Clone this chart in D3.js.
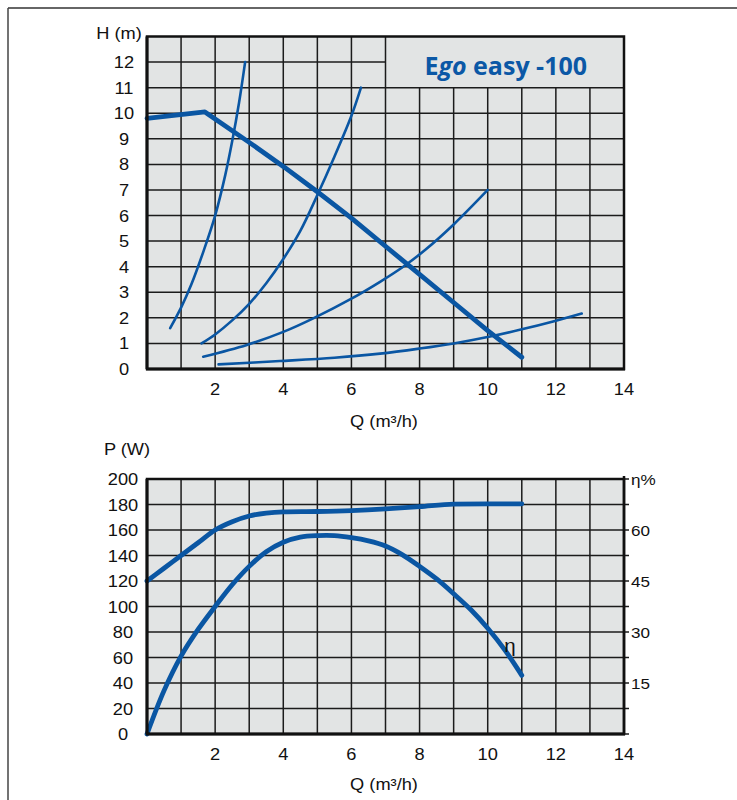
<!DOCTYPE html>
<html><head><meta charset="utf-8">
<script src="https://cdn.jsdelivr.net/npm/d3@7"></script>
<style>body{margin:0;background:#fff}svg{display:block}</style>
</head><body><svg id="c" width="737" height="800"></svg>
<script>
// ---------- data ----------
const qTicks = [2, 4, 6, 8, 10, 12, 14];
const hTicks = [0, 1, 2, 3, 4, 5, 6, 7, 8, 9, 10, 11, 12];
const pTicks = [0, 20, 40, 60, 80, 100, 120, 140, 160, 180, 200];
const etaTicks = [15, 30, 45, 60];
const titleMain = "E", titleItalic = "go", titleRest = " easy -100";

// pump head curve H(Q)
const pumpQ = [0, 1.7, 3, 4, 5, 6, 7, 8, 9, 10, 11];
const pumpH = [9.8, 10.05, 8.86, 7.92, 6.93, 5.9, 4.8, 3.7, 2.6, 1.5, 0.46];
// system curves
const sys1Q = [0.68, 1.0, 1.3, 1.67, 2.0, 2.3, 2.5, 2.7, 2.88];
const sys1H = [1.6, 2.4, 3.3, 4.65, 6.0, 7.6, 8.9, 10.4, 12.0];
const sys2Q = [1.6, 2.0, 2.5, 3.0, 3.5, 4.0, 4.5, 5.0, 5.5, 6.0, 6.28];
const sys2H = [1.0, 1.35, 1.9, 2.55, 3.35, 4.3, 5.4, 6.8, 8.3, 9.9, 11.0];
const sys3Q = [1.65, 2.93, 4.0, 4.88, 6.0, 6.84, 7.52, 8.16, 9.0, 10.0];
const sys3H = [0.48, 0.94, 1.45, 1.98, 2.75, 3.41, 4.0, 4.65, 5.65, 7.0];
const sys4Q = [2.1, 3.9, 5.5, 6.84, 8.0, 9.0, 10.07, 11.0, 11.92, 12.76];
const sys4H = [0.18, 0.31, 0.44, 0.6, 0.8, 1.0, 1.27, 1.55, 1.86, 2.17];
// power curve P(Q) in W
const powerQ = [0, 0.5, 1, 1.5, 2, 2.5, 3, 3.5, 4, 5, 6, 7, 8, 9, 10, 11];
const powerP = [120, 130, 140, 150, 160, 166.5, 171, 173.3, 174.2, 174.5, 175.2, 176.5, 178.3, 180.3, 180.5, 180.5];
// efficiency curve eta(Q) in %
const etaQ = [0, 0.5, 1, 1.5, 2, 2.5, 3, 3.5, 4, 4.5, 5, 5.5, 6, 6.5, 7, 7.5, 8, 8.5, 9, 9.5, 10, 10.5, 11];
const etaPct = [0, 12.75, 22.9, 30.75, 37.5, 43.9, 49.3, 53.6, 56.4, 57.9, 58.35, 58.35, 57.75, 56.8, 55.3, 52.7, 49.3, 45.6, 41.25, 36.6, 31.1, 24.75, 17.25];

// ---------- drawing ----------
const svg = d3.select("#c");
const BLUE = "#0a56a3", BG = "#e2e4e4", GRID = "#1b1b1b";
const FONT = "'Liberation Sans', Arial, sans-serif";
const SX = 1.14;

// page frame
svg.append("line").attr("x1", 8).attr("x2", 737).attr("y1", 8).attr("y2", 8).attr("stroke", "#666").attr("stroke-width", 2);
svg.append("line").attr("x1", 8).attr("x2", 8).attr("y1", 8).attr("y2", 800).attr("stroke", "#444").attr("stroke-width", 1.5);

function label(x, y, txt, anchor, size) {
  return svg.append("text")
    .attr("transform", `translate(${x},${y}) scale(${SX},1)`)
    .attr("text-anchor", anchor || "middle")
    .attr("font-family", FONT).attr("font-size", size || 16)
    .attr("fill", "#111").text(txt);
}

const x = d3.scaleLinear().domain([0, 14]).range([147, 624]);
const yH = d3.scaleLinear().domain([0, 13]).range([369, 36.5]);
const yP = d3.scaleLinear().domain([0, 200]).range([734, 479]);
const yE = d3.scaleLinear().domain([0, 75]).range([734, 479]);

const toPts = (qs, vs) => qs.map((q, i) => [q, vs[i]]);
const smooth = d3.curveCatmullRom.alpha(0.5);

// ===== top chart =====
svg.append("rect").attr("x", x(0)).attr("y", yH(13)).attr("width", x(14) - x(0)).attr("height", yH(0) - yH(13)).attr("fill", BG);
const gTop = svg.append("g");
d3.range(1, 14).forEach(q => {
  gTop.append("line").attr("x1", x(q)).attr("x2", x(q))
    .attr("y1", yH(0)).attr("y2", q > 7 ? yH(11) : yH(13))
    .attr("stroke", GRID).attr("stroke-width", 1.5);
});
d3.range(1, 13).forEach(h => {
  gTop.append("line").attr("y1", yH(h)).attr("y2", yH(h))
    .attr("x1", x(0)).attr("x2", h > 11 ? x(7) : x(14))
    .attr("stroke", GRID).attr("stroke-width", 1.5);
});
// title
const t = svg.append("text").attr("x", (x(7) + x(14)) / 2 + 1).attr("y", 75)
  .attr("text-anchor", "middle").attr("font-family", "'Open Sans', 'Noto Sans', sans-serif")
  .attr("font-weight", "bold").attr("font-size", 25).attr("fill", "#0b58a6");
t.append("tspan").text(titleMain);
t.append("tspan").attr("font-style", "italic").text(titleItalic);
t.append("tspan").text(titleRest);

const lineH = d3.line().x(d => x(d[0])).y(d => yH(d[1]));
[[sys1Q, sys1H], [sys2Q, sys2H], [sys3Q, sys3H], [sys4Q, sys4H]].forEach(([qs, hs]) => {
  svg.append("path").attr("d", lineH.curve(smooth)(toPts(qs, hs)))
    .attr("fill", "none").attr("stroke", BLUE).attr("stroke-width", 2.6).attr("stroke-linecap", "round");
});
svg.append("path").attr("d", d3.line().x(d => x(d[0])).y(d => yH(d[1])).curve(d3.curveLinear)(toPts(pumpQ, pumpH)))
  .attr("fill", "none").attr("stroke", BLUE).attr("stroke-width", 4.8)
  .attr("stroke-linecap", "round").attr("stroke-linejoin", "round");

// borders
svg.append("rect").attr("x", x(0)).attr("y", yH(13)).attr("width", x(14) - x(0)).attr("height", yH(0) - yH(13))
  .attr("fill", "none").attr("stroke", "#111").attr("stroke-width", 2.5);
svg.append("line").attr("x1", x(0)).attr("x2", x(0)).attr("y1", yH(13)).attr("y2", yH(0)).attr("stroke", "#111").attr("stroke-width", 3);
svg.append("line").attr("x1", x(0) - 1).attr("x2", x(14) + 1).attr("y1", yH(0)).attr("y2", yH(0)).attr("stroke", "#111").attr("stroke-width", 3);

// labels
hTicks.forEach(h => label(124, yH(h) + 6, String(h)));
qTicks.forEach(q => label(x(q), 395, String(q)));
label(119, 39, "H (m)");
label(384, 427, "Q (m³/h)");

// ===== bottom chart =====
svg.append("rect").attr("x", x(0)).attr("y", yP(200)).attr("width", x(14) - x(0)).attr("height", yP(0) - yP(200)).attr("fill", BG);
d3.range(1, 14).forEach(q => {
  svg.append("line").attr("x1", x(q)).attr("x2", x(q)).attr("y1", yP(0)).attr("y2", yP(200))
    .attr("stroke", GRID).attr("stroke-width", 1.5);
});
pTicks.slice(1, -1).forEach(p => {
  svg.append("line").attr("x1", x(0)).attr("x2", x(14)).attr("y1", yP(p)).attr("y2", yP(p))
    .attr("stroke", GRID).attr("stroke-width", 1.5);
});
// right ticks
pTicks.forEach(p => {
  svg.append("line").attr("x1", x(14)).attr("x2", x(14) + 5).attr("y1", yP(p)).attr("y2", yP(p))
    .attr("stroke", GRID).attr("stroke-width", 1.5);
});

const lineP = d3.line().x(d => x(d[0])).y(d => yP(d[1])).curve(d3.curveMonotoneX);
svg.append("path").attr("d", lineP(toPts(powerQ, powerP)))
  .attr("fill", "none").attr("stroke", BLUE).attr("stroke-width", 4.8).attr("stroke-linecap", "round");
const lineE = d3.line().x(d => x(d[0])).y(d => yE(d[1])).curve(smooth);
svg.append("path").attr("d", lineE(toPts(etaQ, etaPct)))
  .attr("fill", "none").attr("stroke", BLUE).attr("stroke-width", 4.8).attr("stroke-linecap", "round");

svg.append("rect").attr("x", x(0)).attr("y", yP(200)).attr("width", x(14) - x(0)).attr("height", yP(0) - yP(200))
  .attr("fill", "none").attr("stroke", "#111").attr("stroke-width", 2.5);
svg.append("line").attr("x1", x(0)).attr("x2", x(0)).attr("y1", yP(200)).attr("y2", yP(0)).attr("stroke", "#111").attr("stroke-width", 3);
svg.append("line").attr("x1", x(0) - 1).attr("x2", x(14) + 1).attr("y1", yP(0)).attr("y2", yP(0)).attr("stroke", "#111").attr("stroke-width", 3);
svg.append("line").attr("x1", x(14)).attr("x2", x(14)).attr("y1", yP(200) - 3).attr("y2", yP(0)).attr("stroke", "#111").attr("stroke-width", 2.5);

pTicks.forEach(p => label(123, yP(p) + 6, String(p)));
qTicks.forEach(q => label(x(q), 760, String(q)));
etaTicks.forEach(e => label(631, yE(e) + 6, String(e), "start", 15));
label(631, yE(75) + 6, "η%", "start", 15);
label(510, 652, "η", "middle", 18);
label(127, 455, "P (W)");
label(384, 790, "Q (m³/h)");
</script></body></html>
